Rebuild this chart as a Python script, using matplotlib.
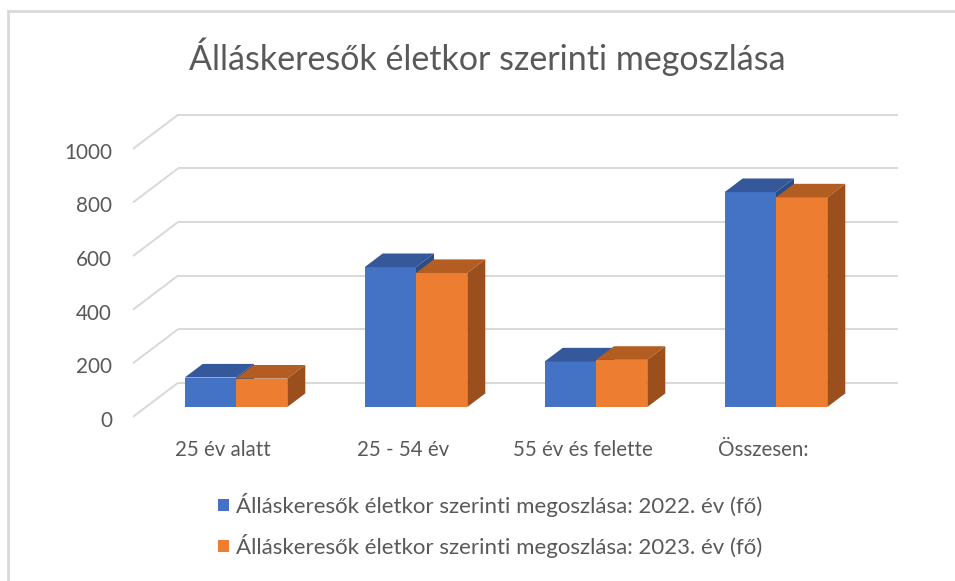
import matplotlib
matplotlib.use("Agg")
import matplotlib.pyplot as plt
from matplotlib.patches import Polygon, Rectangle
import numpy as np

# ---------------- data ----------------
categories = ["25 év alatt", "25 - 54 év", "55 év és felette", "Összesen:"]
series_names = ["Álláskeresők életkor szerinti megoszlása: 2022. év (fő)",
                "Álláskeresők életkor szerinti megoszlása: 2023. év (fő)"]
values_2022 = [110, 522, 170, 802]
values_2023 = [106, 500, 176, 782]
y_ticks = [0, 200, 400, 600, 800, 1000]
title = "Álláskeresők életkor szerinti megoszlása"

# ---------------- style ----------------
FONT = ["Lato", "DejaVu Sans"]
TEXT = "#595959"
GRID = "#D9D9D9"
front_cols = ["#4472C4", "#ED7D31"]
top_cols = ["#34589A", "#B45D22"]
side_cols = ["#2C4D86", "#9A4F1D"]

W, H, DPI = 955, 581, 100
fig = plt.figure(figsize=(W / DPI, H / DPI), dpi=DPI)
fig.patch.set_facecolor("white")
renderer = fig.canvas.get_renderer()

# outer border (top and left visible)
fig.add_artist(plt.Line2D([8 / W, 1.0], [1 - 11 / H, 1 - 11 / H], transform=fig.transFigure,
                          color="#D9D9D9", lw=2))
fig.add_artist(plt.Line2D([8 / W, 8 / W], [0, 1 - 11 / H], transform=fig.transFigure,
                          color="#D9D9D9", lw=2))

# axes: reference plane = front faces of bars
ax = fig.add_axes([146 / W, 1 - 407 / H, 720 / W, 268 / H])
ax.set_xlim(-0.5, 3.5)
ax.set_ylim(0, 1000)
ax.axis("off")


def px_to_data(dx, dy):
    p0 = ax.transData.transform((0.0, 0.0))
    return ax.transData.inverted().transform(p0 + np.array([dx, dy]))


FULL = np.array([45.0, 34.0])      # depth of the floor in pixels
BAR_FRONT = 0.29                  # fraction of depth where bar fronts sit
BAR_DEPTH = 0.40                  # fraction of depth of bars
front_off = px_to_data(*(-BAR_FRONT * FULL))
back_off = px_to_data(*((1 - BAR_FRONT) * FULL))
bar_off = px_to_data(*(BAR_DEPTH * FULL))

xl, xr = ax.get_xlim()

# gridlines: diagonal on floor side + horizontal on back wall
for v in y_ticks:
    ax.plot([xl + front_off[0], xl + back_off[0]], [v + front_off[1], v + back_off[1]],
            color=GRID, lw=1.4, clip_on=False, zorder=1, solid_capstyle="butt")
    ax.plot([xl + back_off[0], xr + back_off[0]], [v + back_off[1], v + back_off[1]],
            color=GRID, lw=1.4, clip_on=False, zorder=1, solid_capstyle="butt")

# y labels
lab_off = px_to_data(-21, -4)
ylabels = []
for v in y_ticks:
    t = ax.text(xl + front_off[0] + lab_off[0], v + front_off[1] + lab_off[1], str(v),
                ha="right", va="center", color=TEXT, fontsize=15, family=FONT, clip_on=False)
    ylabels.append(t)
w = ylabels[-1].get_window_extent(renderer).width
for t in ylabels:
    t.set_fontsize(15 * 48 / w)

# bars
bw = 0.285
x = np.arange(len(categories))
series = [values_2022, values_2023]
for i, xi in enumerate(x):
    for s, vals in enumerate(series):
        x0 = xi - bw + s * bw
        x1 = x0 + bw
        v = vals[i]
        z = 3 + i * 0.1 + s * 0.01
        ax.bar(x0, v, bw, align="edge", color=front_cols[s], zorder=z, linewidth=0)
        top = [(x0, v), (x1, v), (x1 + bar_off[0], v + bar_off[1]), (x0 + bar_off[0], v + bar_off[1])]
        ax.add_patch(Polygon(top, closed=True, facecolor=top_cols[s], edgecolor="none",
                             zorder=z, clip_on=False))
        side = [(x1, 0), (x1 + bar_off[0], bar_off[1]), (x1 + bar_off[0], v + bar_off[1]), (x1, v)]
        ax.add_patch(Polygon(side, closed=True, facecolor=side_cols[s], edgecolor="none",
                             zorder=z, clip_on=False))

# category labels (front plane)
cat_y = px_to_data(0, -(450 - 407))[1]
clabels = []
for xi, c in zip(x, categories):
    t = ax.text(xi + front_off[0], cat_y, c, ha="center", va="center", color=TEXT,
                fontsize=14, family=FONT, clip_on=False)
    clabels.append(t)
w = clabels[0].get_window_extent(renderer).width
for t in clabels:
    t.set_fontsize(14 * 96 / w)

# title
tt = fig.text(487.5 / W, 1 - 57 / H, title, ha="center", va="center", color=TEXT,
              fontsize=22, family=FONT)
w = tt.get_window_extent(renderer).width
tt.set_fontsize(22 * 595 / w)

# legend
leg_rows = [505, 546]
for s, name in enumerate(series_names):
    yc = leg_rows[s]
    fig.add_artist(Rectangle((218 / W, 1 - (yc + 6) / H), 11 / W, 12 / H,
                             transform=fig.transFigure, facecolor=front_cols[s],
                             edgecolor="none"))
    t = fig.text(236 / W, 1 - yc / H, name, ha="left", va="center", color=TEXT,
                 fontsize=14, family=FONT)
    w = t.get_window_extent(renderer).width
    t.set_fontsize(14 * 527 / w)

fig.savefig("out.png", dpi=DPI, facecolor="white")
